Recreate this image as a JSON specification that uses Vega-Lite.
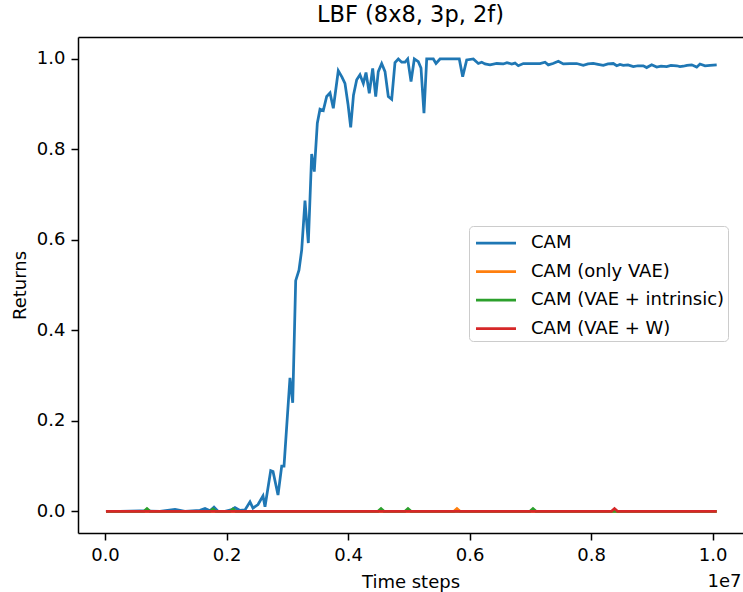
{
  "$schema": "https://vega.github.io/schema/vega-lite/v6.json",
  "autosize": {"type": "none"},
  "padding": {"left": 78, "top": 37, "right": 0, "bottom": 59},
  "width": 665,
  "height": 496,
  "title": {"text": "LBF (8x8, 3p, 2f)", "font": "DejaVu Sans", "fontSize": 22.5, "fontWeight": "normal", "color": "black", "anchor": "middle", "baseline": "alphabetic", "offset": -7},
  "config": {
    "view": {"stroke": null},
    "axis": {"domainColor": "black", "tickColor": "black", "labelColor": "black", "titleColor": "black", "labelFont": "DejaVu Sans", "titleFont": "DejaVu Sans", "labelFontSize": 18, "titleFontSize": 18, "titleFontWeight": "normal", "grid": false, "domainWidth": 1.5, "tickWidth": 1.5, "tickSize": 7, "labelPadding": 6}
  },
  "resolve": {"axis": {"x": "independent", "y": "independent"}},
  "layer": [
    {
      "data": {"values": [
        {"series": "CAM", "step": 16000, "ret": 0},
        {"series": "CAM", "step": 247000, "ret": 0},
        {"series": "CAM", "step": 576000, "ret": 0.001},
        {"series": "CAM", "step": 905000, "ret": 0},
        {"series": "CAM", "step": 1152000, "ret": 0.004},
        {"series": "CAM", "step": 1316000, "ret": 0},
        {"series": "CAM", "step": 1563000, "ret": 0.002},
        {"series": "CAM", "step": 1646000, "ret": 0.006},
        {"series": "CAM", "step": 1728000, "ret": 0.001},
        {"series": "CAM", "step": 1794000, "ret": 0.009},
        {"series": "CAM", "step": 1860000, "ret": 0},
        {"series": "CAM", "step": 1975000, "ret": 0},
        {"series": "CAM", "step": 2090000, "ret": 0.004},
        {"series": "CAM", "step": 2139000, "ret": 0.008},
        {"series": "CAM", "step": 2222000, "ret": 0.002},
        {"series": "CAM", "step": 2304000, "ret": 0.003},
        {"series": "CAM", "step": 2386000, "ret": 0.021},
        {"series": "CAM", "step": 2435000, "ret": 0.007},
        {"series": "CAM", "step": 2518000, "ret": 0.015},
        {"series": "CAM", "step": 2600000, "ret": 0.034},
        {"series": "CAM", "step": 2633000, "ret": 0.01},
        {"series": "CAM", "step": 2727000, "ret": 0.09},
        {"series": "CAM", "step": 2765000, "ret": 0.088},
        {"series": "CAM", "step": 2847000, "ret": 0.036},
        {"series": "CAM", "step": 2908000, "ret": 0.1},
        {"series": "CAM", "step": 2946000, "ret": 0.1},
        {"series": "CAM", "step": 3044000, "ret": 0.295},
        {"series": "CAM", "step": 3089000, "ret": 0.24},
        {"series": "CAM", "step": 3138000, "ret": 0.51},
        {"series": "CAM", "step": 3192000, "ret": 0.533},
        {"series": "CAM", "step": 3237000, "ret": 0.578},
        {"series": "CAM", "step": 3291000, "ret": 0.687},
        {"series": "CAM", "step": 3346000, "ret": 0.593},
        {"series": "CAM", "step": 3401000, "ret": 0.79},
        {"series": "CAM", "step": 3444000, "ret": 0.751},
        {"series": "CAM", "step": 3494000, "ret": 0.858},
        {"series": "CAM", "step": 3538000, "ret": 0.889},
        {"series": "CAM", "step": 3592000, "ret": 0.886},
        {"series": "CAM", "step": 3648000, "ret": 0.917},
        {"series": "CAM", "step": 3703000, "ret": 0.925},
        {"series": "CAM", "step": 3757000, "ret": 0.891},
        {"series": "CAM", "step": 3839000, "ret": 0.974},
        {"series": "CAM", "step": 3900000, "ret": 0.96},
        {"series": "CAM", "step": 3949000, "ret": 0.946},
        {"series": "CAM", "step": 3999000, "ret": 0.9},
        {"series": "CAM", "step": 4043000, "ret": 0.849},
        {"series": "CAM", "step": 4089000, "ret": 0.92},
        {"series": "CAM", "step": 4142000, "ret": 0.954},
        {"series": "CAM", "step": 4196000, "ret": 0.965},
        {"series": "CAM", "step": 4251000, "ret": 0.946},
        {"series": "CAM", "step": 4295000, "ret": 0.97},
        {"series": "CAM", "step": 4349000, "ret": 0.924},
        {"series": "CAM", "step": 4405000, "ret": 0.979},
        {"series": "CAM", "step": 4455000, "ret": 0.917},
        {"series": "CAM", "step": 4497000, "ret": 0.972},
        {"series": "CAM", "step": 4553000, "ret": 0.99},
        {"series": "CAM", "step": 4608000, "ret": 0.972},
        {"series": "CAM", "step": 4662000, "ret": 0.917},
        {"series": "CAM", "step": 4718000, "ret": 0.911},
        {"series": "CAM", "step": 4772000, "ret": 0.992},
        {"series": "CAM", "step": 4827000, "ret": 1.0},
        {"series": "CAM", "step": 4882000, "ret": 0.993},
        {"series": "CAM", "step": 4937000, "ret": 0.993},
        {"series": "CAM", "step": 4981000, "ret": 1.0},
        {"series": "CAM", "step": 5036000, "ret": 0.95},
        {"series": "CAM", "step": 5090000, "ret": 1.0},
        {"series": "CAM", "step": 5156000, "ret": 0.994},
        {"series": "CAM", "step": 5200000, "ret": 0.98},
        {"series": "CAM", "step": 5249000, "ret": 0.88},
        {"series": "CAM", "step": 5294000, "ret": 1.0},
        {"series": "CAM", "step": 5403000, "ret": 1.0},
        {"series": "CAM", "step": 5447000, "ret": 0.99},
        {"series": "CAM", "step": 5513000, "ret": 1.0},
        {"series": "CAM", "step": 5677000, "ret": 1.0},
        {"series": "CAM", "step": 5830000, "ret": 1.0},
        {"series": "CAM", "step": 5886000, "ret": 0.961},
        {"series": "CAM", "step": 5952000, "ret": 0.998},
        {"series": "CAM", "step": 6061000, "ret": 1.0},
        {"series": "CAM", "step": 6143000, "ret": 0.99},
        {"series": "CAM", "step": 6199000, "ret": 0.993},
        {"series": "CAM", "step": 6253000, "ret": 0.989},
        {"series": "CAM", "step": 6336000, "ret": 0.987},
        {"series": "CAM", "step": 6446000, "ret": 0.99},
        {"series": "CAM", "step": 6554000, "ret": 0.989},
        {"series": "CAM", "step": 6615000, "ret": 0.992},
        {"series": "CAM", "step": 6693000, "ret": 0.989},
        {"series": "CAM", "step": 6747000, "ret": 0.991},
        {"series": "CAM", "step": 6801000, "ret": 0.985},
        {"series": "CAM", "step": 6884000, "ret": 0.99},
        {"series": "CAM", "step": 6994000, "ret": 0.99},
        {"series": "CAM", "step": 7158000, "ret": 0.99},
        {"series": "CAM", "step": 7241000, "ret": 0.993},
        {"series": "CAM", "step": 7295000, "ret": 0.987},
        {"series": "CAM", "step": 7372000, "ret": 0.99},
        {"series": "CAM", "step": 7460000, "ret": 0.995},
        {"series": "CAM", "step": 7542000, "ret": 0.989},
        {"series": "CAM", "step": 7652000, "ret": 0.99},
        {"series": "CAM", "step": 7762000, "ret": 0.99},
        {"series": "CAM", "step": 7871000, "ret": 0.986},
        {"series": "CAM", "step": 7948000, "ret": 0.989},
        {"series": "CAM", "step": 8035000, "ret": 0.99},
        {"series": "CAM", "step": 8113000, "ret": 0.988},
        {"series": "CAM", "step": 8200000, "ret": 0.986},
        {"series": "CAM", "step": 8277000, "ret": 0.989},
        {"series": "CAM", "step": 8365000, "ret": 0.99},
        {"series": "CAM", "step": 8421000, "ret": 0.985},
        {"series": "CAM", "step": 8475000, "ret": 0.988},
        {"series": "CAM", "step": 8529000, "ret": 0.986},
        {"series": "CAM", "step": 8606000, "ret": 0.987},
        {"series": "CAM", "step": 8694000, "ret": 0.983},
        {"series": "CAM", "step": 8771000, "ret": 0.985},
        {"series": "CAM", "step": 8858000, "ret": 0.985},
        {"series": "CAM", "step": 8914000, "ret": 0.981},
        {"series": "CAM", "step": 8996000, "ret": 0.987},
        {"series": "CAM", "step": 9079000, "ret": 0.982},
        {"series": "CAM", "step": 9150000, "ret": 0.984},
        {"series": "CAM", "step": 9243000, "ret": 0.983},
        {"series": "CAM", "step": 9314000, "ret": 0.986},
        {"series": "CAM", "step": 9408000, "ret": 0.985},
        {"series": "CAM", "step": 9462000, "ret": 0.983},
        {"series": "CAM", "step": 9517000, "ret": 0.984},
        {"series": "CAM", "step": 9577000, "ret": 0.986},
        {"series": "CAM", "step": 9655000, "ret": 0.987},
        {"series": "CAM", "step": 9737000, "ret": 0.982},
        {"series": "CAM", "step": 9791000, "ret": 0.989},
        {"series": "CAM", "step": 9874000, "ret": 0.985},
        {"series": "CAM", "step": 9956000, "ret": 0.986},
        {"series": "CAM", "step": 10066000, "ret": 0.987},
        {"series": "CAM (only VAE)", "step": 16000, "ret": 0},
        {"series": "CAM (only VAE)", "step": 5742000, "ret": 0},
        {"series": "CAM (only VAE)", "step": 5792000, "ret": 0.006},
        {"series": "CAM (only VAE)", "step": 5842000, "ret": 0},
        {"series": "CAM (only VAE)", "step": 10066000, "ret": 0},
        {"series": "CAM (VAE + intrinsic)", "step": 16000, "ret": 0},
        {"series": "CAM (VAE + intrinsic)", "step": 641000, "ret": 0},
        {"series": "CAM (VAE + intrinsic)", "step": 691000, "ret": 0.006},
        {"series": "CAM (VAE + intrinsic)", "step": 741000, "ret": 0},
        {"series": "CAM (VAE + intrinsic)", "step": 1727000, "ret": 0},
        {"series": "CAM (VAE + intrinsic)", "step": 1777000, "ret": 0.005},
        {"series": "CAM (VAE + intrinsic)", "step": 1827000, "ret": 0},
        {"series": "CAM (VAE + intrinsic)", "step": 2056000, "ret": 0},
        {"series": "CAM (VAE + intrinsic)", "step": 2106000, "ret": 0.005},
        {"series": "CAM (VAE + intrinsic)", "step": 2156000, "ret": 0},
        {"series": "CAM (VAE + intrinsic)", "step": 4492000, "ret": 0},
        {"series": "CAM (VAE + intrinsic)", "step": 4542000, "ret": 0.006},
        {"series": "CAM (VAE + intrinsic)", "step": 4592000, "ret": 0},
        {"series": "CAM (VAE + intrinsic)", "step": 4936000, "ret": 0},
        {"series": "CAM (VAE + intrinsic)", "step": 4986000, "ret": 0.006},
        {"series": "CAM (VAE + intrinsic)", "step": 5036000, "ret": 0},
        {"series": "CAM (VAE + intrinsic)", "step": 6993000, "ret": 0},
        {"series": "CAM (VAE + intrinsic)", "step": 7043000, "ret": 0.006},
        {"series": "CAM (VAE + intrinsic)", "step": 7093000, "ret": 0},
        {"series": "CAM (VAE + intrinsic)", "step": 10066000, "ret": 0},
        {"series": "CAM (VAE + W)", "step": 16000, "ret": 0},
        {"series": "CAM (VAE + W)", "step": 8334000, "ret": 0},
        {"series": "CAM (VAE + W)", "step": 8384000, "ret": 0.006},
        {"series": "CAM (VAE + W)", "step": 8434000, "ret": 0},
        {"series": "CAM (VAE + W)", "step": 10066000, "ret": 0}
      ]},
      "mark": {"type": "line", "strokeWidth": 2.75},
      "encoding": {
        "x": {"field": "step", "type": "quantitative", "scale": {"domain": [-444300, 10498900], "nice": false, "zero": false},
          "axis": {"values": [0, 2000000, 4000000, 6000000, 8000000, 10000000], "labelExpr": "format(datum.value / 10000000, '.1f')", "title": "Time steps", "titlePadding": 9}},
        "y": {"field": "ret", "type": "quantitative", "scale": {"domain": [-0.048, 1.0486], "nice": false, "zero": false},
          "axis": {"values": [0, 0.2, 0.4, 0.6, 0.8, 1.0], "format": ".1f", "title": "Returns", "titlePadding": 7}},
        "color": {"field": "series", "type": "nominal",
          "scale": {"domain": ["CAM", "CAM (only VAE)", "CAM (VAE + intrinsic)", "CAM (VAE + W)"], "range": ["#1f77b4", "#ff7f0e", "#2ca02c", "#d62728"]},
          "legend": {"orient": "none", "legendX": 391, "legendY": 189, "title": null, "symbolType": "M-0.8,0H2.4", "symbolSize": 625, "symbolStrokeWidth": 2.75, "labelFontSize": 18, "labelFont": "DejaVu Sans", "labelColor": "black", "labelOffset": 31, "labelLimit": 400, "rowPadding": 5.5, "padding": 3, "strokeColor": "#cccccc", "fillColor": "white", "cornerRadius": 4}}
      }
    },
    {
      "data": {"values": [{"label": "1e7"}]},
      "mark": {"type": "text", "align": "right", "baseline": "alphabetic", "font": "DejaVu Sans", "fontSize": 18, "color": "black"},
      "encoding": {
        "x": {"datum": 10474300, "type": "quantitative", "scale": {"domain": [-444300, 10498900], "nice": false, "zero": false},
          "axis": {"orient": "top", "labels": false, "ticks": false, "title": null, "domain": true}},
        "y": {"datum": -0.1674, "type": "quantitative", "axis": null},
        "text": {"field": "label"}
      }
    }
  ]
}
